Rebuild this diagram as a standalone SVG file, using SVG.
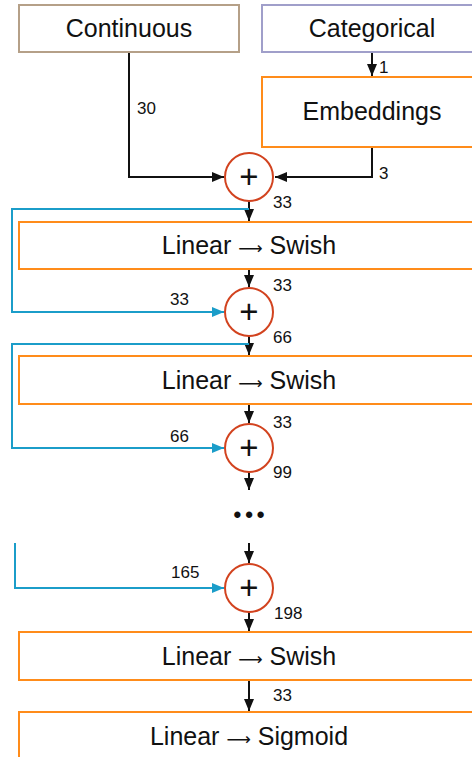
<svg xmlns="http://www.w3.org/2000/svg" width="472" height="757" viewBox="0 0 472 757">
<style>
.box{fill:#fff;stroke-width:2}
.or{stroke:#ff8c1a}
.t{font-family:"Liberation Sans",Arial,sans-serif;font-size:25px;fill:#111;text-anchor:middle}
.ar{font-family:"DejaVu Sans",sans-serif;font-size:17px}
.l{font-family:"Liberation Sans",Arial,sans-serif;font-size:17px;fill:#111}
.c{fill:#fff;stroke:#d2431f;stroke-width:2}
.p{font-family:"Liberation Sans",Arial,sans-serif;font-size:33px;fill:#111;text-anchor:middle}
.k{fill:none;stroke:#111;stroke-width:2}
.b{fill:none;stroke:#1b9dc9;stroke-width:2}
</style>
<defs>
<marker id="ak" markerUnits="userSpaceOnUse" markerWidth="12" markerHeight="10" refX="12" refY="5" orient="auto"><path d="M0,0 L12,5 L0,10 z" fill="#111"/></marker>
<marker id="ab" markerUnits="userSpaceOnUse" markerWidth="12" markerHeight="10" refX="12" refY="5" orient="auto"><path d="M0,0 L12,5 L0,10 z" fill="#1b9dc9"/></marker>
</defs>
<g id="connectors">
<path class="k" d="M129,52 V177 H224" marker-end="url(#ak)"/>
<path class="k" d="M372,52 V76" marker-end="url(#ak)"/>
<path class="k" d="M372,147 V177 H275" marker-end="url(#ak)"/>
<path class="k" d="M249,201 V221" marker-end="url(#ak)"/>
<path class="b" d="M249,209 H12 V312 H224" marker-end="url(#ab)"/>
<path class="k" d="M249,269 V287" marker-end="url(#ak)"/>
<path class="k" d="M249,336 V355" marker-end="url(#ak)"/>
<path class="b" d="M249,344 H12 V448 H224" marker-end="url(#ab)"/>
<path class="k" d="M249,404 V423" marker-end="url(#ak)"/>
<path class="k" d="M249,472 V490" marker-end="url(#ak)"/>
<path class="k" d="M249,543 V563" marker-end="url(#ak)"/>
<path class="b" d="M15,543 V588 H224" marker-end="url(#ab)"/>
<path class="k" d="M249,612 V631" marker-end="url(#ak)"/>
<path class="k" d="M249,680 V711" marker-end="url(#ak)"/>
<text class="l" x="137" y="114">30</text>
<text class="l" x="379" y="73">1</text>
<text class="l" x="379" y="179">3</text>
<text class="l" x="273" y="208">33</text>
<text class="l" x="273" y="291">33</text>
<text class="l" x="170" y="305">33</text>
<text class="l" x="273" y="343">66</text>
<text class="l" x="273" y="428">33</text>
<text class="l" x="170" y="442">66</text>
<text class="l" x="273" y="478">99</text>
<text class="l" x="171" y="578">165</text>
<text class="l" x="274" y="619">198</text>
<text class="l" x="273" y="701">33</text>
</g>
<g id="continuous"><rect class="box" x="19" y="5" width="220" height="47" stroke="#b5a088"/><text class="t" x="129" y="37">Continuous</text></g>
<g id="categorical"><rect class="box" x="262" y="5" width="220" height="47" stroke="#a09fca"/><text class="t" x="372" y="37">Categorical</text></g>
<g id="embeddings"><rect class="box or" x="262" y="77" width="220" height="70"/><text class="t" x="372" y="120">Embeddings</text></g>
<g id="sum1"><circle class="c" cx="249" cy="177" r="24"/><text class="p" x="249" y="188">+</text></g>
<g id="swish1"><rect class="box or" x="19" y="222" width="460" height="47"/><text class="t" x="249" y="254">Linear <tspan class="ar">⟶</tspan> Swish</text></g>
<g id="sum2"><circle class="c" cx="249" cy="312" r="24"/><text class="p" x="249" y="323">+</text></g>
<g id="swish2"><rect class="box or" x="19" y="356" width="460" height="48"/><text class="t" x="249" y="389">Linear <tspan class="ar">⟶</tspan> Swish</text></g>
<g id="sum3"><circle class="c" cx="249" cy="448" r="24"/><text class="p" x="249" y="459">+</text></g>
<g id="dots"><text class="t" x="251" y="522" style="font-size:22px;letter-spacing:4px;font-weight:bold">•••</text></g>
<g id="sum4"><circle class="c" cx="249" cy="588" r="24"/><text class="p" x="249" y="599">+</text></g>
<g id="swish3"><rect class="box or" x="19" y="632" width="460" height="48"/><text class="t" x="249" y="665">Linear <tspan class="ar">⟶</tspan> Swish</text></g>
<g id="sigmoid"><rect class="box or" x="19" y="712" width="460" height="60"/><text class="t" x="249" y="745">Linear <tspan class="ar">⟶</tspan> Sigmoid</text></g>
</svg>
